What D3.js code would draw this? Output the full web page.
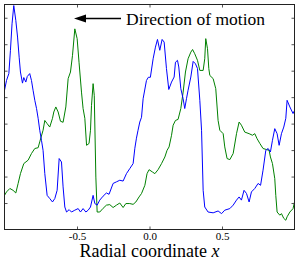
<!DOCTYPE html>
<html>
<head>
<meta charset="utf-8">
<script src="https://cdn.jsdelivr.net/npm/d3@7"></script>
<style>
html,body{margin:0;padding:0;background:#fff;}
svg{display:block;}
</style>
</head>
<body>
<svg id="chart" width="300" height="267"></svg>
<script>
const blueX = [-1.0,-0.986,-0.970,-0.959,-0.948,-0.936,-0.922,-0.910,-0.899,-0.890,-0.876,-0.867,-0.853,-0.843,-0.826,-0.814,-0.803,-0.791,-0.779,-0.768,-0.757,-0.745,-0.734,-0.722,-0.706,-0.688,-0.669,-0.653,-0.637,-0.623,-0.607,-0.596,-0.584,-0.572,-0.554,-0.538,-0.515,-0.492,-0.476,-0.458,-0.439,-0.423,-0.407,-0.389,-0.377,-0.361,-0.343,-0.320,-0.297,-0.279,-0.251,-0.228,-0.205,-0.182,-0.159,-0.136,-0.113,-0.101,-0.090,-0.079,-0.067,-0.055,-0.044,-0.021,-0.008,0.006,0.025,0.041,0.055,0.071,0.087,0.101,0.117,0.133,0.152,0.170,0.179,0.193,0.202,0.216,0.232,0.243,0.255,0.266,0.285,0.301,0.317,0.331,0.347,0.359,0.370,0.381,0.404,0.439,0.473,0.497,0.519,0.554,0.577,0.600,0.618,0.634,0.652,0.669,0.687,0.703,0.726,0.749,0.766,0.783,0.802,0.818,0.834,0.848,0.864,0.880,0.894,0.910,0.926,0.940,0.949,0.968,0.990,1.0];
const blueY = [5.26,5.63,5.89,6.77,7.77,8.46,7.90,7.27,6.51,5.95,5.53,5.74,5.57,5.78,5.89,5.63,5.26,4.88,4.57,4.20,3.75,3.37,2.99,2.11,1.29,1.17,1.04,1.17,1.48,2.68,2.55,1.61,0.85,0.66,0.75,0.66,0.73,0.79,0.66,0.79,0.66,0.73,0.85,1.29,0.98,0.92,1.11,1.26,1.38,1.33,1.74,1.80,1.86,1.83,2.11,2.30,2.49,3.07,3.45,3.75,4.06,4.24,4.94,5.63,5.75,5.75,6.45,6.89,7.18,6.77,7.18,7.08,6.08,5.29,5.57,5.76,6.32,6.39,6.14,5.32,4.94,4.57,4.94,5.26,5.76,6.35,6.26,6.08,4.88,3.75,1.48,0.85,0.66,0.63,0.70,0.60,0.73,0.79,0.92,1.11,1.23,1.11,1.48,1.36,1.04,1.42,1.55,1.74,1.67,2.24,2.99,3.06,2.93,3.37,3.81,3.62,3.18,3.62,3.87,4.20,4.88,4.63,4.38,4.50];

const greenX = [-1.0,-0.986,-0.963,-0.941,-0.922,-0.906,-0.890,-0.867,-0.837,-0.814,-0.791,-0.768,-0.757,-0.734,-0.722,-0.706,-0.688,-0.669,-0.660,-0.646,-0.630,-0.614,-0.596,-0.577,-0.561,-0.545,-0.531,-0.515,-0.499,-0.486,-0.469,-0.458,-0.446,-0.434,-0.417,-0.407,-0.400,-0.389,-0.381,-0.370,-0.361,-0.343,-0.320,-0.297,-0.274,-0.251,-0.228,-0.205,-0.182,-0.163,-0.136,-0.113,-0.094,-0.072,-0.055,-0.032,-0.017,-0.003,0.021,0.037,0.059,0.083,0.106,0.121,0.135,0.152,0.163,0.179,0.197,0.216,0.232,0.248,0.266,0.285,0.297,0.312,0.331,0.347,0.370,0.381,0.388,0.400,0.409,0.416,0.439,0.457,0.473,0.485,0.508,0.519,0.535,0.554,0.577,0.600,0.618,0.634,0.657,0.687,0.710,0.726,0.742,0.761,0.783,0.807,0.825,0.834,0.848,0.864,0.871,0.880,0.899,0.910,0.926,0.940,0.949,0.968,0.990,1.0];
const greenY = [1.29,1.42,1.55,1.48,1.38,1.74,2.11,2.49,2.62,2.87,3.06,3.09,3.31,3.75,4.12,4.00,3.87,4.20,4.44,4.63,4.44,4.09,4.05,4.63,5.70,5.95,6.58,7.58,7.21,6.32,5.19,4.57,4.20,3.18,3.25,3.75,4.69,5.51,5.07,1.98,0.66,0.66,0.80,0.92,0.94,0.83,0.92,1.00,0.83,0.98,0.98,0.95,1.04,1.23,1.36,1.67,2.11,2.26,2.17,2.11,2.26,2.49,2.74,2.99,3.12,3.56,3.94,4.12,4.16,4.57,5.19,5.95,6.45,6.70,6.80,6.64,6.39,6.01,6.01,6.45,7.21,6.83,6.08,5.82,5.70,5.32,4.12,3.75,3.62,3.12,2.68,2.64,2.87,3.62,4.06,3.94,3.68,3.62,3.56,3.62,3.43,3.25,3.06,3.02,2.99,2.74,2.49,1.92,1.29,0.66,0.54,0.60,0.42,0.35,0.48,0.66,0.79,1.04];

const xTicks = [-0.5, 0.0, 0.5];
const xTickLabels = ["-0.5", "0.0", "0.5"];
const yTicks = [1, 2, 3, 4, 5, 6, 7, 8];
const xLabel = "Radial coordinate ";
const xLabelVar = "x";
const annotation = "Direction of motion";

const svg = d3.select("#chart");
const L = 4.5, R = 294.5, T = 4.5, B = 229.5;
const x = d3.scaleLinear().domain([-1, 1]).range([L, R]);
const y = d3.scaleLinear().domain([0, 8.5]).range([B, T]);

svg.append("defs").append("clipPath").attr("id", "clip")
  .append("rect").attr("x", L).attr("y", T).attr("width", R - L).attr("height", B - T);

const line = d3.line().x(d => x(d[0])).y(d => y(d[1]));
const blue = blueX.map((v, i) => [v, blueY[i]]);
const green = greenX.map((v, i) => [v, greenY[i]]);

const g = svg.append("g").attr("clip-path", "url(#clip)");
g.append("path").datum(green).attr("d", line).attr("fill", "none").attr("stroke", "#008000").attr("stroke-width", 1);
g.append("path").datum(blue).attr("d", line).attr("fill", "none").attr("stroke", "#0000ff").attr("stroke-width", 1);

// axes (ticks inward)
const tickLen = 3;
const axB = d3.axisBottom(x).tickValues(xTicks).tickSizeInner(-tickLen).tickSizeOuter(0).tickFormat((d, i) => xTickLabels[i]).tickPadding(2.5);
const axT = d3.axisTop(x).tickValues(xTicks).tickSizeInner(-tickLen).tickSizeOuter(0).tickFormat("");
const axL = d3.axisLeft(y).tickValues(yTicks).tickSizeInner(-tickLen).tickSizeOuter(0).tickFormat("");
const axR = d3.axisRight(y).tickValues(yTicks).tickSizeInner(-tickLen).tickSizeOuter(0).tickFormat("");

function style(sel) {
  sel.select(".domain").remove();
  sel.selectAll(".tick line").attr("stroke", "#555").attr("stroke-width", 1);
  sel.selectAll(".tick text").attr("font-family", "'Liberation Serif', 'Times New Roman', serif").attr("font-size", 11).attr("fill", "#000");
}
svg.append("g").attr("transform", `translate(0,${B})`).call(axB).call(style);
svg.append("g").attr("transform", `translate(0,${T})`).call(axT).call(style);
svg.append("g").attr("transform", `translate(${L},0)`).call(axL).call(style);
svg.append("g").attr("transform", `translate(${R},0)`).call(axR).call(style);

// frame
svg.append("rect").attr("x", L).attr("y", T).attr("width", R - L).attr("height", B - T)
  .attr("fill", "none").attr("stroke", "#222").attr("stroke-width", 1);

// x label
const lab = svg.append("text").attr("x", x(0)).attr("y", 257)
  .attr("text-anchor", "middle").attr("font-family", "'Liberation Serif', 'Times New Roman', serif")
  .attr("font-size", 18).attr("fill", "#000");
lab.append("tspan").text(xLabel);
lab.append("tspan").attr("font-style", "italic").text(xLabelVar);

// annotation arrow
const ay = 18.5;
svg.append("line").attr("x1", 84).attr("y1", ay).attr("x2", 121).attr("y2", ay)
  .attr("stroke", "#000").attr("stroke-width", 1.5);
svg.append("path").attr("d", `M74,${ay} L86,${ay - 4} L86,${ay + 4} Z`).attr("fill", "#000");
svg.append("text").attr("x", 126).attr("y", 24.5)
  .attr("font-family", "'Liberation Serif', 'Times New Roman', serif")
  .attr("font-size", 17.5).attr("fill", "#000").text(annotation);
</script>
</body>
</html>
